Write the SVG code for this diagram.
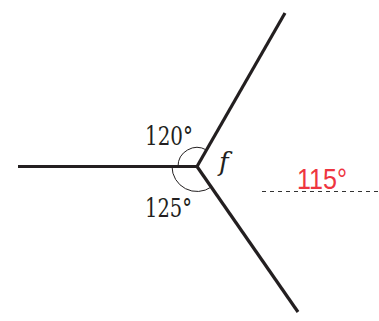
<svg xmlns="http://www.w3.org/2000/svg" width="379" height="321" viewBox="0 0 379 321">
<style>
.bond{stroke:#231f20;stroke-width:3.2;fill:none;stroke-linecap:butt}
.arc{stroke:#231f20;stroke-width:1;fill:none}
.lbl{font-family:'DejaVu Serif',serif;font-size:26px;fill:#231f20}
.red{font-family:'Liberation Sans',sans-serif;font-size:30px;fill:#ee3540}
.dash{stroke:#333;stroke-width:1;stroke-dasharray:4 4}
</style>
<rect width="379" height="321" fill="#fff"/>
<g id="connectors">
<line class="bond" x1="18" y1="166.5" x2="197" y2="166.5"/>
<line class="bond" x1="197" y1="166.5" x2="285" y2="13"/>
<line class="bond" x1="197" y1="166.5" x2="298" y2="312"/>
<path class="arc" d="M178,166.5 A19,19 0 0 1 206.5,150"/>
<path class="arc" d="M172,166.5 A25,25 0 0 0 211.3,187"/>
<line class="dash" x1="262" y1="191.5" x2="379" y2="191.5"/>
</g>
<g id="label-120"><text class="lbl" x="145" y="145" textLength="48" lengthAdjust="spacingAndGlyphs">120°</text></g>
<g id="label-125"><text class="lbl" x="145" y="217" textLength="47" lengthAdjust="spacingAndGlyphs">125°</text></g>
<g id="label-f"><text class="lbl" x="219" y="171" font-size="25" font-style="italic">f</text></g>
<g id="label-115"><text class="red" x="297" y="189" textLength="50" lengthAdjust="spacingAndGlyphs">115°</text></g>
</svg>
